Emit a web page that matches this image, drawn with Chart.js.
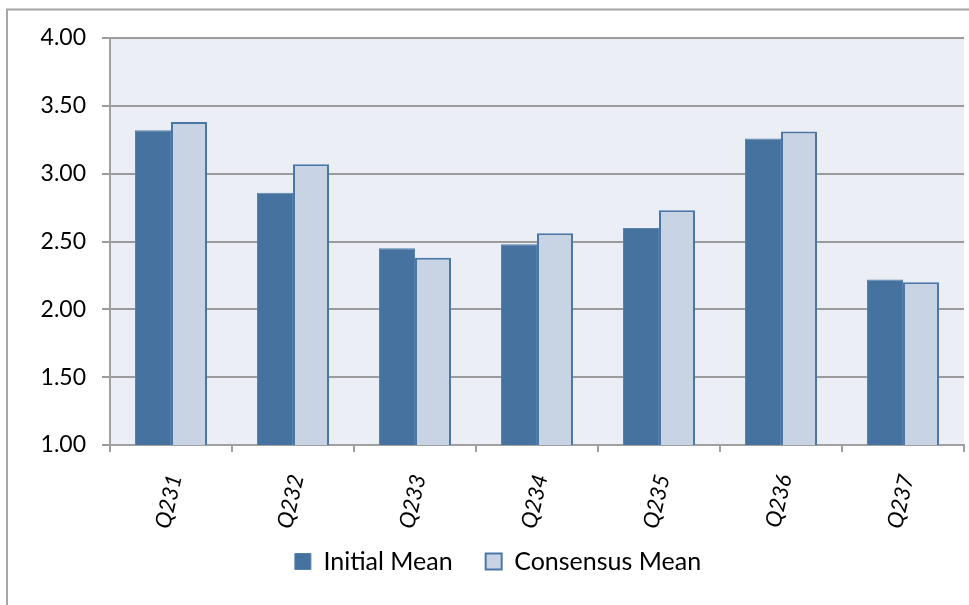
<!DOCTYPE html>
<html>
<head>
<meta charset="utf-8">
<script src="https://cdn.jsdelivr.net/npm/chart.js@4/dist/chart.umd.min.js"></script>
<style>
  html, body { margin: 0; padding: 0; background: #ffffff; }
  #wrap { width: 969px; height: 605px; position: relative; }
</style>
</head>
<body>
<div id="wrap"><canvas id="chart" width="969" height="605"></canvas></div>
<script>
// Question codes along the category axis
const categories = ['Q231', 'Q232', 'Q233', 'Q234', 'Q235', 'Q236', 'Q237'];
// Mean ratings before and after discussion
const initialMean   = [3.32, 2.86, 2.45, 2.48, 2.60, 3.26, 2.22];
const consensusMean = [3.38, 3.07, 2.38, 2.56, 2.73, 3.31, 2.20];
// Value axis range and step
const yMin = 1.00;
const yMax = 4.00;
const yStep = 0.50;

const FONT = 'Lato, "Open Sans", "DejaVu Sans", sans-serif';

// Shaded plot area and outer frame
const framePlugin = {
  id: 'frame',
  beforeDraw(chart) {
    const { ctx, chartArea: a } = chart;
    ctx.save();
    ctx.fillStyle = '#ffffff';
    ctx.fillRect(0, 0, chart.width, chart.height);
    ctx.fillStyle = '#EBEFF5';
    ctx.fillRect(a.left, a.top, a.right - a.left, a.bottom - a.top);
    ctx.strokeStyle = '#a6a6a6';
    ctx.lineWidth = 2;
    ctx.beginPath();
    ctx.moveTo(7, chart.height);
    ctx.lineTo(7, 9.5);
    ctx.lineTo(chart.width, 9.5);
    ctx.stroke();
    ctx.restore();
  }
};

new Chart(document.getElementById('chart'), {
  type: 'bar',
  data: {
    labels: categories,
    datasets: [
      {
        label: 'Initial Mean',
        data: initialMean,
        backgroundColor: '#46729F',
        borderColor: '#5580AC',
        borderWidth: 1,
        borderSkipped: 'bottom'
      },
      {
        label: 'Consensus Mean',
        data: consensusMean,
        backgroundColor: '#C8D3E4',
        borderColor: '#4A76A8',
        borderWidth: 2,
        borderSkipped: 'bottom'
      }
    ]
  },
  options: {
    responsive: false,
    animation: false,
    devicePixelRatio: 1,
    layout: { padding: { top: 38, right: 5, left: 32, bottom: 21 } },
    datasets: {
      bar: { categoryPercentage: 0.59, barPercentage: 1.0 }
    },
    scales: {
      x: {
        grid: {
          display: true,
          drawOnChartArea: false,
          drawTicks: true,
          tickLength: 7,
          color: '#a0a0a0',
          lineWidth: 2,
          offset: true
        },
        border: { display: true, color: '#a0a0a0', width: 2 },
        ticks: {
          color: '#000000',
          font: { family: FONT, size: 22, style: 'italic' },
          minRotation: 77,
          maxRotation: 77,
          padding: 20,
          labelOffset: 4
        },
        afterFit(scale) {
          scale.height = 71;
          // let the rotated labels run past the axis box
          scale._computeLabelArea = () => undefined;
        }
      },
      y: {
        min: yMin,
        max: yMax,
        grid: {
          color: '#9b9b9b',
          lineWidth: 2,
          drawTicks: true,
          tickLength: 8
        },
        border: { display: true, color: '#a0a0a0', width: 2 },
        ticks: {
          stepSize: yStep,
          color: '#000000',
          font: { family: FONT, size: 23 },
          padding: 16,
          callback: (v) => Number(v).toFixed(2)
        },
        afterFit(scale) { scale.width = 78; }
      }
    },
    plugins: {
      legend: {
        position: 'bottom',
        labels: {
          color: '#000000',
          font: { family: FONT, size: 25 },
          boxWidth: 16,
          boxHeight: 16,
          padding: 33
        }
      },
      tooltip: { enabled: false }
    }
  },
  plugins: [framePlugin]
});
</script>
</body>
</html>
